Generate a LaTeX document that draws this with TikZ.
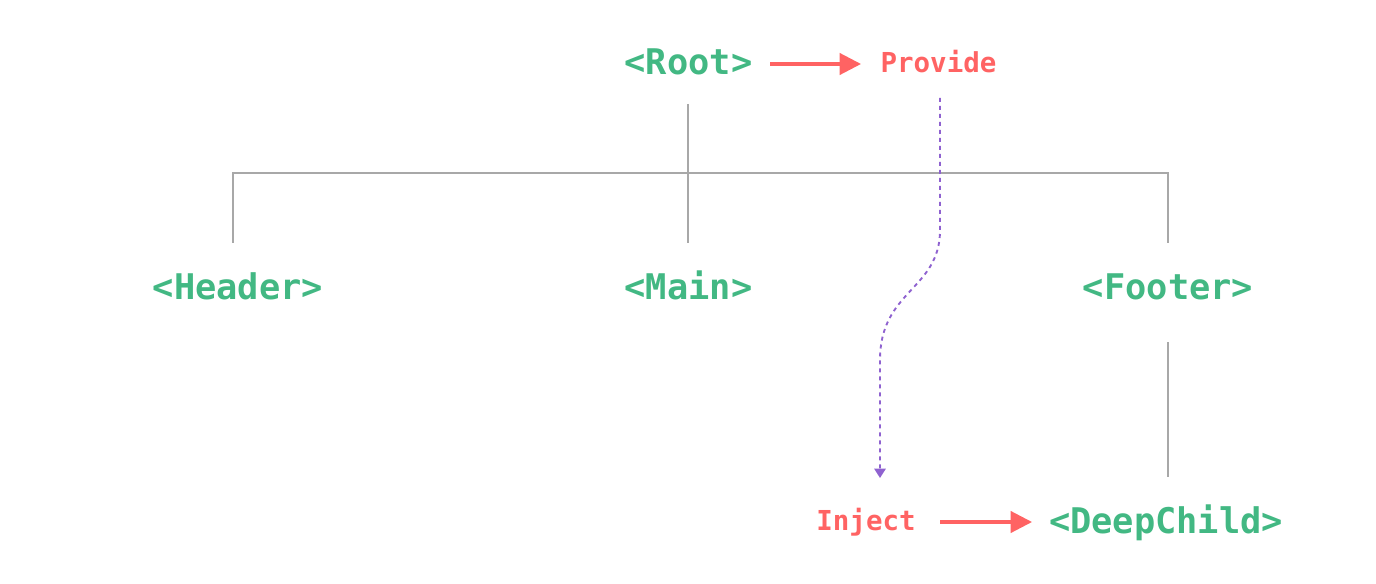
\documentclass[tikz,border=0pt]{standalone}
\usepackage{fontspec}
\usetikzlibrary{arrows.meta}
\newfontfamily\monofam{DejaVu Sans Mono}
\definecolor{vgreen}{HTML}{42B883}
\definecolor{vred}{HTML}{FF6363}
\definecolor{vpurple}{HTML}{8F62D0}
\definecolor{vgray}{HTML}{A8A8A8}
\begin{document}
\begin{tikzpicture}[x=0.75pt,y=-0.75pt,
  comp/.style={inner sep=0pt,anchor=base,text=vgreen,font=\monofam\bfseries\fontsize{26.5pt}{30pt}\selectfont},
  apinode/.style={inner sep=0pt,anchor=base,text=vred,font=\monofam\bfseries\fontsize{20.6pt}{24pt}\selectfont},
  tree/.style={draw=vgray,line width=1.5pt},
  redarrow/.style={draw=vred,line width=2.3pt,-{Triangle[length=16pt,width=16pt]}},
  injectline/.style={draw=vpurple,line width=1.4pt,dash pattern=on 3pt off 3pt,-{Triangle[length=7pt,width=8.5pt]}}]
\useasboundingbox (0,0) rectangle (1376,584);
% nodes
\node[comp] (root) at (688.5,75) {<Root>};
\node[apinode] (provide) at (938.5,73) {Provide};
\node[comp] (header) at (238,300) {<Header>};
\node[comp] (main) at (688.5,300) {<Main>};
\node[comp] (footer) at (1168,300) {<Footer>};
\node[apinode] (inject) at (866,530) {Inject};
\node[comp] (deep) at (1166,533) {<DeepChild>};
% tree coordinates
\coordinate (rootB) at (688,104);
\coordinate (mainT) at (688,243);
\coordinate (headT) at (233,243);
\coordinate (headJ) at (233,173);
\coordinate (footJ) at (1168,173);
\coordinate (footT) at (1168,243);
\coordinate (footB) at (1168,342);
\coordinate (deepT) at (1168,477);
\draw[tree] (rootB) -- (mainT);
\draw[tree] (headT) -- (headJ) -- (footJ) -- (footT);
\draw[tree] (footB) -- (deepT);
% red arrows
\coordinate (ra1) at (770,64);
\coordinate (ra2) at (861,64);
\draw[redarrow] (ra1) -- (ra2);
\coordinate (rb1) at (940,522);
\coordinate (rb2) at (1032,522);
\draw[redarrow] (rb1) -- (rb2);
% inject path
\coordinate (provB) at (940,98);
\coordinate (c1) at (940,230);
\coordinate (c2) at (880,360);
\coordinate (injT) at (880,478);
\draw[injectline] (provB) -- (c1) .. controls (940,290) and (880,290) .. (c2) -- (injT);
\end{tikzpicture}
\end{document}
